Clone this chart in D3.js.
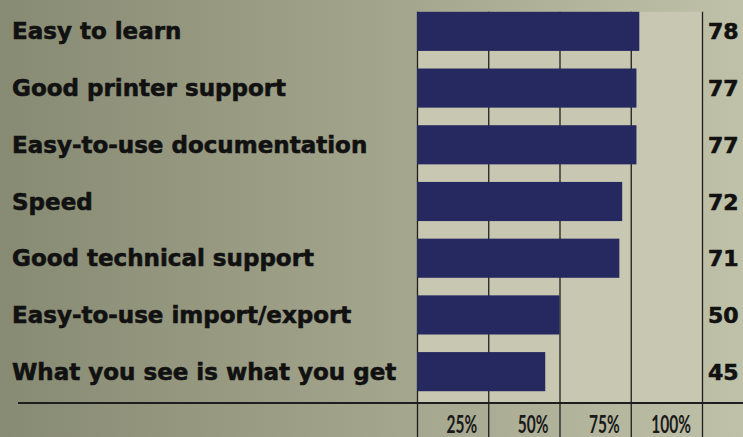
<!DOCTYPE html>
<html>
<head>
<meta charset="utf-8">
<script src="https://cdn.jsdelivr.net/npm/d3@7/dist/d3.min.js"></script>
<style>
  html, body { margin: 0; padding: 0; background: #a3a58d; }
  svg { display: block; }
</style>
</head>
<body>
<svg id="chart" width="743" height="437"></svg>
<script>
// Feature ratings, percent of respondents
const categories = [
  "Easy to learn",
  "Good printer support",
  "Easy-to-use documentation",
  "Speed",
  "Good technical support",
  "Easy-to-use import/export",
  "What you see is what you get"
];
const values = [78, 77, 77, 72, 71, 50, 45];
const tickValues = [25, 50, 75, 100];
const tickLabels = ["25%", "50%", "75%", "100%"];

const W = 743, H = 437;
const svg = d3.select("#chart");

// Background wash: darker olive on the left, lighter toward the right
const defs = svg.append("defs");
const bg = defs.append("linearGradient").attr("id", "bg")
  .attr("x1", "0").attr("x2", "1").attr("y1", "0").attr("y2", "0");
bg.append("stop").attr("offset", "0").attr("stop-color", "#888b73");
bg.append("stop").attr("offset", "0.55").attr("stop-color", "#a4a68d");
bg.append("stop").attr("offset", "1").attr("stop-color", "#bfc1a8");
svg.append("rect").attr("width", W).attr("height", H).attr("fill", "url(#bg)");

const x = d3.scaleLinear().domain([0, 100]).range([417, 702]);
const y = d3.scaleBand().domain(categories).range([3, 400])
  .paddingInner(0.31).paddingOuter(0.155);

const baseY = 403;
const topY = y(categories[0]);

// Light plot field behind the bars
svg.append("rect")
  .attr("x", x(0)).attr("y", topY)
  .attr("width", x(100) - x(0)).attr("height", baseY - topY)
  .attr("fill", "#c8c8b2");

// Grid lines at 0, 25, 50, 75, 100 running to the bottom edge
const axis = d3.axisBottom(x)
  .tickValues([0].concat(tickValues))
  .tickSize(H - topY)
  .tickFormat("");
const gAxis = svg.append("g").attr("transform", `translate(0,${topY})`).call(axis);
gAxis.select(".domain").remove();
gAxis.selectAll(".tick line").attr("stroke", "#1e1e1e").attr("stroke-width", 1.3);

// Bars
svg.append("g").selectAll("rect")
  .data(values)
  .join("rect")
  .attr("x", x(0))
  .attr("y", (d, i) => y(categories[i]))
  .attr("width", d => x(d) - x(0))
  .attr("height", y.bandwidth())
  .attr("fill", "#25295f");

// Baseline
svg.append("line")
  .attr("x1", 18).attr("x2", W)
  .attr("y1", baseY).attr("y2", baseY)
  .attr("stroke", "#1e1e1e").attr("stroke-width", 2);

const labelFont = "'DejaVu Sans', Verdana, sans-serif";

// Category labels
svg.append("g").selectAll("text")
  .data(categories)
  .join("text")
  .attr("x", 12)
  .attr("y", d => y(d) + y.bandwidth() / 2 + 8)
  .attr("font-family", labelFont)
  .attr("font-weight", 700)
  .attr("font-size", 23)
  .attr("fill", "#111")
  .attr("stroke", "#111")
  .attr("stroke-width", 0.6)
  .text(d => d);

// Value labels right of the 100% line
svg.append("g").selectAll("text")
  .data(values)
  .join("text")
  .attr("x", 708)
  .attr("y", (d, i) => y(categories[i]) + y.bandwidth() / 2 + 8)
  .attr("font-family", labelFont)
  .attr("font-weight", 700)
  .attr("font-size", 22)
  .attr("fill", "#111")
  .attr("stroke", "#111")
  .attr("stroke-width", 0.6)
  .text(d => d);

// Condensed percent labels under the baseline
svg.append("g").selectAll("g")
  .data(tickValues)
  .join("g")
  .attr("transform", d => `translate(${x(d) - 11},433) scale(0.62,1)`)
  .append("text")
  .attr("text-anchor", "end")
  .attr("font-family", "Lato, sans-serif")
  .attr("font-weight", 700)
  .attr("font-size", 25)
  .attr("fill", "#1a1a1a")
  .text((d, i) => tickLabels[i]);
</script>
</body>
</html>
